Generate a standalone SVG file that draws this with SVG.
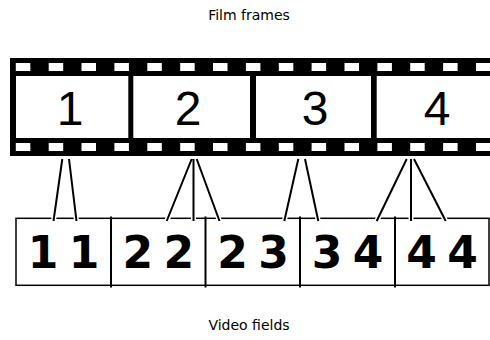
<svg xmlns="http://www.w3.org/2000/svg" width="490" height="340" viewBox="0 0 490 340">
<style>
.cap{font-family:"DejaVu Sans",Verdana,sans-serif;font-size:14px;fill:#000;text-anchor:middle}
.fnum{font-family:"Liberation Sans",Arial,sans-serif;font-size:48px;fill:#000;text-anchor:middle}
.vnum{font-family:"DejaVu Sans",Verdana,sans-serif;font-weight:bold;font-size:44px;fill:#000;text-anchor:middle;word-spacing:-5px}
.frame{fill:#fff}
.hole{fill:#fff}
.case{stroke:#fff;stroke-width:5;fill:none}
.line{stroke:#000;stroke-width:2;fill:none}
.div{stroke:#000;stroke-width:2}
</style>
<defs>
<rect id="h" width="14.5" height="8" class="hole"/>
</defs>
<text class="cap" x="249" y="20">Film frames</text>
<text class="cap" x="249" y="330">Video fields</text>
<g id="film">
<rect x="10" y="58" width="480" height="98" fill="#000"/>
<g id="holes-top">
<use href="#h" x="15.8" y="63"/><use href="#h" x="48.7" y="63"/><use href="#h" x="81.5" y="63"/><use href="#h" x="114.4" y="63"/><use href="#h" x="147.3" y="63"/><use href="#h" x="180.2" y="63"/><use href="#h" x="213" y="63"/><use href="#h" x="245.9" y="63"/><use href="#h" x="278.8" y="63"/><use href="#h" x="311.6" y="63"/><use href="#h" x="344.5" y="63"/><use href="#h" x="377.4" y="63"/><use href="#h" x="410.2" y="63"/><use href="#h" x="443.1" y="63"/><use href="#h" x="476" y="63"/>
</g>
<g id="holes-bottom">
<use href="#h" x="15.8" y="143"/><use href="#h" x="48.7" y="143"/><use href="#h" x="81.5" y="143"/><use href="#h" x="114.4" y="143"/><use href="#h" x="147.3" y="143"/><use href="#h" x="180.2" y="143"/><use href="#h" x="213" y="143"/><use href="#h" x="245.9" y="143"/><use href="#h" x="278.8" y="143"/><use href="#h" x="311.6" y="143"/><use href="#h" x="344.5" y="143"/><use href="#h" x="377.4" y="143"/><use href="#h" x="410.2" y="143"/><use href="#h" x="443.1" y="143"/><use href="#h" x="476" y="143"/>
</g>
</g>
<g id="film-frame-1"><rect class="frame" x="16" y="76" width="112.3" height="62"/><text class="fnum" x="70" y="124.5">1</text></g>
<g id="film-frame-2"><rect class="frame" x="133.3" y="76" width="116.7" height="62"/><text class="fnum" x="188" y="124.5">2</text></g>
<g id="film-frame-3"><rect class="frame" x="256" y="76" width="115" height="62"/><text class="fnum" x="315" y="124.5">3</text></g>
<g id="film-frame-4"><rect class="frame" x="376.7" y="76" width="113.3" height="62"/><text class="fnum" x="437" y="124.5">4</text></g>
<g id="video">
<rect x="16" y="218.3" width="473" height="67" fill="#fff" stroke="#000" stroke-width="1.5"/>
<line class="div" x1="111" y1="216.5" x2="111" y2="287.5"/>
<line class="div" x1="205.5" y1="216.5" x2="205.5" y2="287.5"/>
<line class="div" x1="300" y1="216.5" x2="300" y2="287.5"/>
<line class="div" x1="395" y1="216.5" x2="395" y2="287.5"/>
</g>
<g id="field-1"><text class="vnum" x="63.5" y="268">1 1</text></g>
<g id="field-2"><text class="vnum" x="158.3" y="268">2 2</text></g>
<g id="field-3"><text class="vnum" x="253" y="268">2 3</text></g>
<g id="field-4"><text class="vnum" x="347.5" y="268">3 4</text></g>
<g id="field-5"><text class="vnum" x="442" y="268">4 4</text></g>
<g id="connectors">
<path class="case" d="M62.3 159L53.5 221M69 159L76.5 221M191.7 159L166.7 221M193.5 159L193.5 221M196.7 159L219.5 221M298.3 159L284.3 221M305 159L318.3 221M406.7 159L376.7 221M411 159L411 221M414 159L445.7 221"/>
<path class="line" d="M62.3 159L53.5 221M69 159L76.5 221M191.7 159L166.7 221M193.5 159L193.5 221M196.7 159L219.5 221M298.3 159L284.3 221M305 159L318.3 221M406.7 159L376.7 221M411 159L411 221M414 159L445.7 221"/>
</g>
</svg>
